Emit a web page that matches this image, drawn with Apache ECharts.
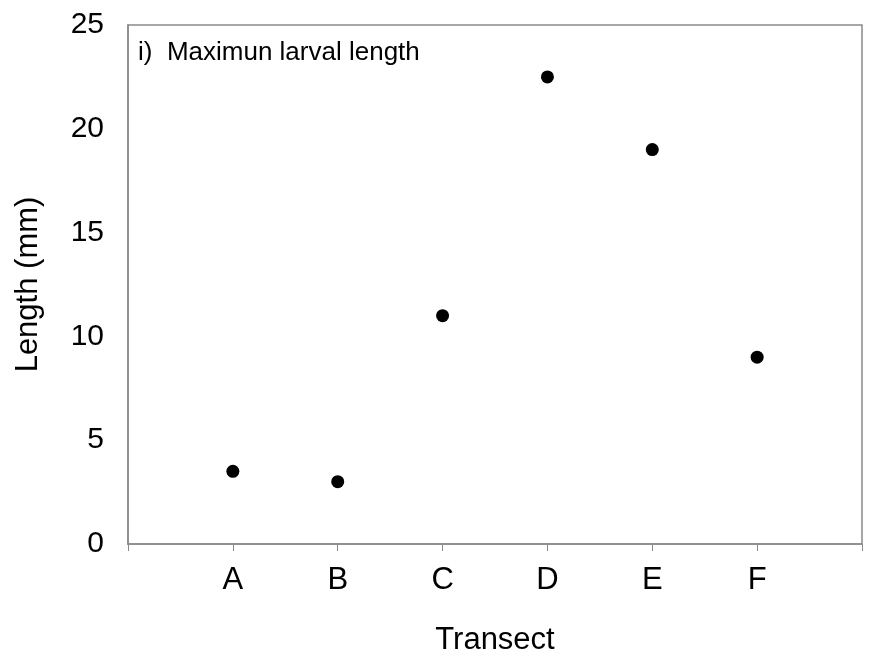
<!DOCTYPE html>
<html>
<head>
<meta charset="utf-8">
<script src="https://cdn.jsdelivr.net/npm/echarts@6/dist/echarts.min.js"></script>
<style>
  html, body { margin: 0; padding: 0; background: #fff; }
  #chart { width: 870px; height: 659px; }
</style>
</head>
<body>
<div id="chart"></div>
<script>
// transects on the x axis (placed at 1..6 on a 0..7 scale)
const transects = ['A', 'B', 'C', 'D', 'E', 'F'];
// maximum larval length, mm
const maxLength = [3.5, 3.0, 11.0, 22.5, 19.0, 9.0];
const yTicks = [0, 5, 10, 15, 20, 25];

const chart = echarts.init(document.getElementById('chart'), null, {renderer: 'canvas'});

const points = transects.map((t, i) => [i + 1, maxLength[i]]);
const font = '"Liberation Sans", Arial, sans-serif';

const option = {
  backgroundColor: '#fff',
  animation: false,
  title: {
    text: 'i)  Maximun larval length',
    left: 133,
    top: 35,
    textStyle: {fontFamily: font, fontSize: 26, fontWeight: 'normal', color: '#000'}
  },
  grid: {
    left: 128,
    right: 8,
    top: 25,
    bottom: 115,
    outerBoundsMode: 'none',
    show: true,
    borderColor: '#8a8a8a',
    borderWidth: 1.5,
    backgroundColor: 'transparent'
  },
  xAxis: {
    type: 'value',
    min: 0,
    max: 7,
    interval: 1,
    name: 'Transect',
    nameLocation: 'middle',
    nameGap: 81,
    nameTextStyle: {fontFamily: font, fontSize: 31, color: '#000'},
    axisLine: {show: true, lineStyle: {color: '#8a8a8a', width: 1.5}},
    axisTick: {show: true, length: 7, lineStyle: {color: '#8a8a8a'}},
    splitLine: {show: false},
    axisLabel: {
      margin: 21,
      fontFamily: font,
      fontSize: 31,
      color: '#000',
      formatter: v => transects[v - 1] || ''
    }
  },
  yAxis: {
    type: 'value',
    min: yTicks[0],
    max: yTicks[yTicks.length - 1],
    interval: 5,
    name: 'Length (mm)',
    nameLocation: 'middle',
    nameGap: 84,
    nameRotate: 90,
    nameTextStyle: {fontFamily: font, fontSize: 31, color: '#000'},
    axisLine: {show: true, lineStyle: {color: '#8a8a8a', width: 1.5}},
    axisTick: {show: false},
    splitLine: {show: false},
    axisLabel: {margin: 24, fontFamily: font, fontSize: 30, color: '#000'}
  },
  series: [{
    type: 'scatter',
    data: points,
    symbol: 'circle',
    symbolSize: 13,
    itemStyle: {color: '#000', opacity: 1}
  }]
};

chart.setOption(option);
</script>
</body>
</html>
